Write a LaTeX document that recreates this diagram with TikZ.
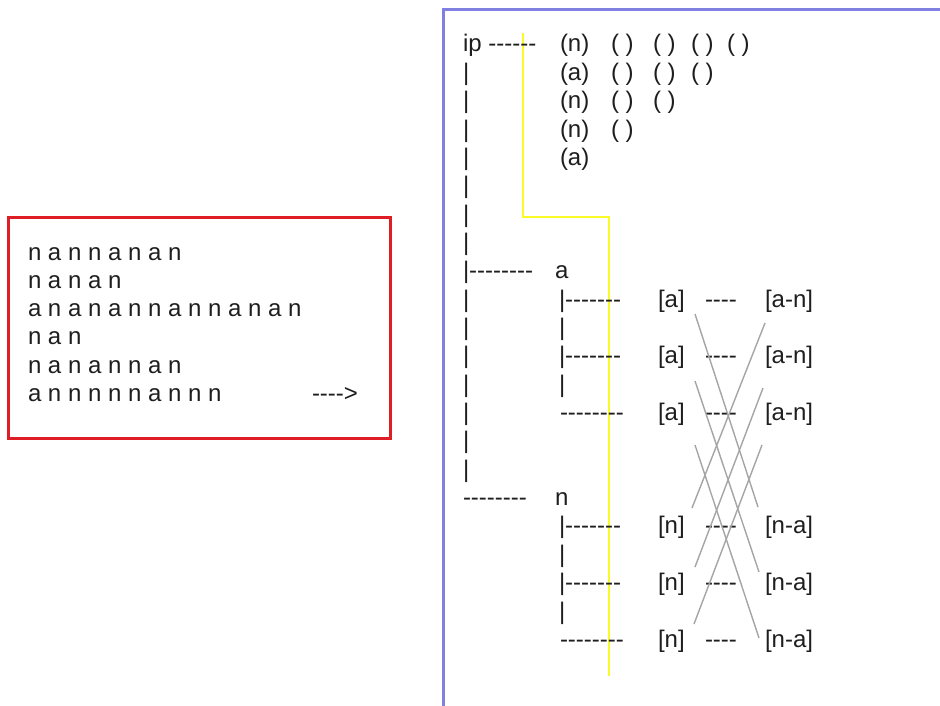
\documentclass[tikz,border=0pt]{standalone}
\usepackage{fontspec}
\newfontfamily\ar{Liberation Sans}
\definecolor{boxblue}{RGB}{128,128,225}
\definecolor{boxred}{RGB}{222,30,36}
\definecolor{ylw}{RGB}{250,250,40}
\definecolor{crossgray}{RGB}{165,165,165}
\definecolor{txt}{RGB}{30,30,30}
\tikzset{
  t/.style={anchor=base west, inner sep=0pt, outer sep=0pt, font=\ar\fontsize{24}{28}\selectfont, text=txt},
  cross/.style={draw=crossgray, line width=1.4pt},
  yl/.style={draw=ylw, line width=2pt},
}
\begin{document}
\begin{tikzpicture}[x=1pt,y=-1pt]
\useasboundingbox (0,0) rectangle (940,706);
\fill[white] (0,0) rectangle (940,706);
% boxes
\draw[boxred, line width=3pt] (8,217) rectangle (390,438);
\draw[boxblue, line width=3pt] (443.5,712) -- (443.5,9.5) -- (946,9.5);
% yellow path
\coordinate (y1) at (523,33);
\coordinate (y2) at (523,217);
\coordinate (y3) at (609,217);
\coordinate (y4) at (609,676);
\draw[yl] (y1) -- (y2) -- (y3) -- (y4);
% left box text
\node[t] (l1) at (28,260) {n a n n a n a n};
\node[t] (l2) at (28,288.3) {n a n a n};
\node[t] (l3) at (28,316.6) {a n a n a n n a n n a n a n};
\node[t] (l4) at (28,344.9) {n a n};
\node[t] (l5) at (28,373.2) {n a n a n n a n};
\node[t] (l6) at (28,401.5) {a n n n n n a n n n};
\node[t] (arr) at (312,401.5) {---{}->};
% top block
\node[t] (ip) at (463,52) {ip ------};
\node[t] (p1) at (560,52) {(n)};
\node[t] (p1a) at (611,52) {( )};
\node[t] (p1b) at (653,52) {( )};
\node[t] (p1c) at (691,52) {( )};
\node[t] (p1d) at (727,52) {( )};
\node[t] (p2) at (560,80.35) {(a)};
\node[t] (p2a) at (611,80.35) {( )};
\node[t] (p2b) at (653,80.35) {( )};
\node[t] (p2c) at (691,80.35) {( )};
\node[t] (p3) at (560,108.7) {(n)};
\node[t] (p3a) at (611,108.7) {( )};
\node[t] (p3b) at (653,108.7) {( )};
\node[t] (p4) at (560,137.05) {(n)};
\node[t] (p4a) at (611,137.05) {( )};
\node[t] (p5) at (560,165.4) {(a)};
% main column pipes
\foreach \k in {1,...,7,9,10,...,15}{
  \node[t] (c\k) at (463,52+28.35*\k) {|};
}
\node[t] (c8) at (463,52+28.35*8) {|--------};
\node[t] (ra) at (555,52+28.35*8) {a};
\node[t] (c16) at (463,52+28.35*16) {--------};
\node[t] (rn) at (555,52+28.35*16) {n};
% sub columns
\node[t] (sa1) at (559,52+28.35*9) {|-------};
\node[t] (sa2) at (559,52+28.35*10) {|};
\node[t] (sa3) at (559,52+28.35*11) {|-------};
\node[t] (sa4) at (559,52+28.35*12) {|};
\node[t] (sa5) at (560,52+28.35*13) {--------};
\node[t] (sn1) at (559,52+28.35*17) {|-------};
\node[t] (sn2) at (559,52+28.35*18) {|};
\node[t] (sn3) at (559,52+28.35*19) {|-------};
\node[t] (sn4) at (559,52+28.35*20) {|};
\node[t] (sn5) at (560,52+28.35*21) {--------};
% bracket items
\foreach \k/\i in {9/1,11/2,13/3}{
  \node[t] (ba\i) at (658,52+28.35*\k) {[a]};
  \node[t] (da\i) at (705,52+28.35*\k) {----};
  \node[t] (ea\i) at (765,52+28.35*\k) {[a-n]};
}
\foreach \k/\i in {17/1,19/2,21/3}{
  \node[t] (bn\i) at (658,52+28.35*\k) {[n]};
  \node[t] (dn\i) at (705,52+28.35*\k) {----};
  \node[t] (en\i) at (765,52+28.35*\k) {[n-a]};
}
% crossing lines
\coordinate (g1s) at (695,314);
\coordinate (g1e) at (758,507);
\coordinate (g2s) at (695,381);
\coordinate (g2e) at (759,572);
\coordinate (g3s) at (695,445);
\coordinate (g3e) at (759,638);
\coordinate (g4s) at (692,508);
\coordinate (g4e) at (765,323);
\coordinate (g5s) at (695,567);
\coordinate (g5e) at (763,388);
\coordinate (g6s) at (694,624);
\coordinate (g6e) at (762,445);
\foreach \i in {1,...,6}{
  \draw[cross] (g\i s) -- (g\i e);
}
\end{tikzpicture}
\end{document}
